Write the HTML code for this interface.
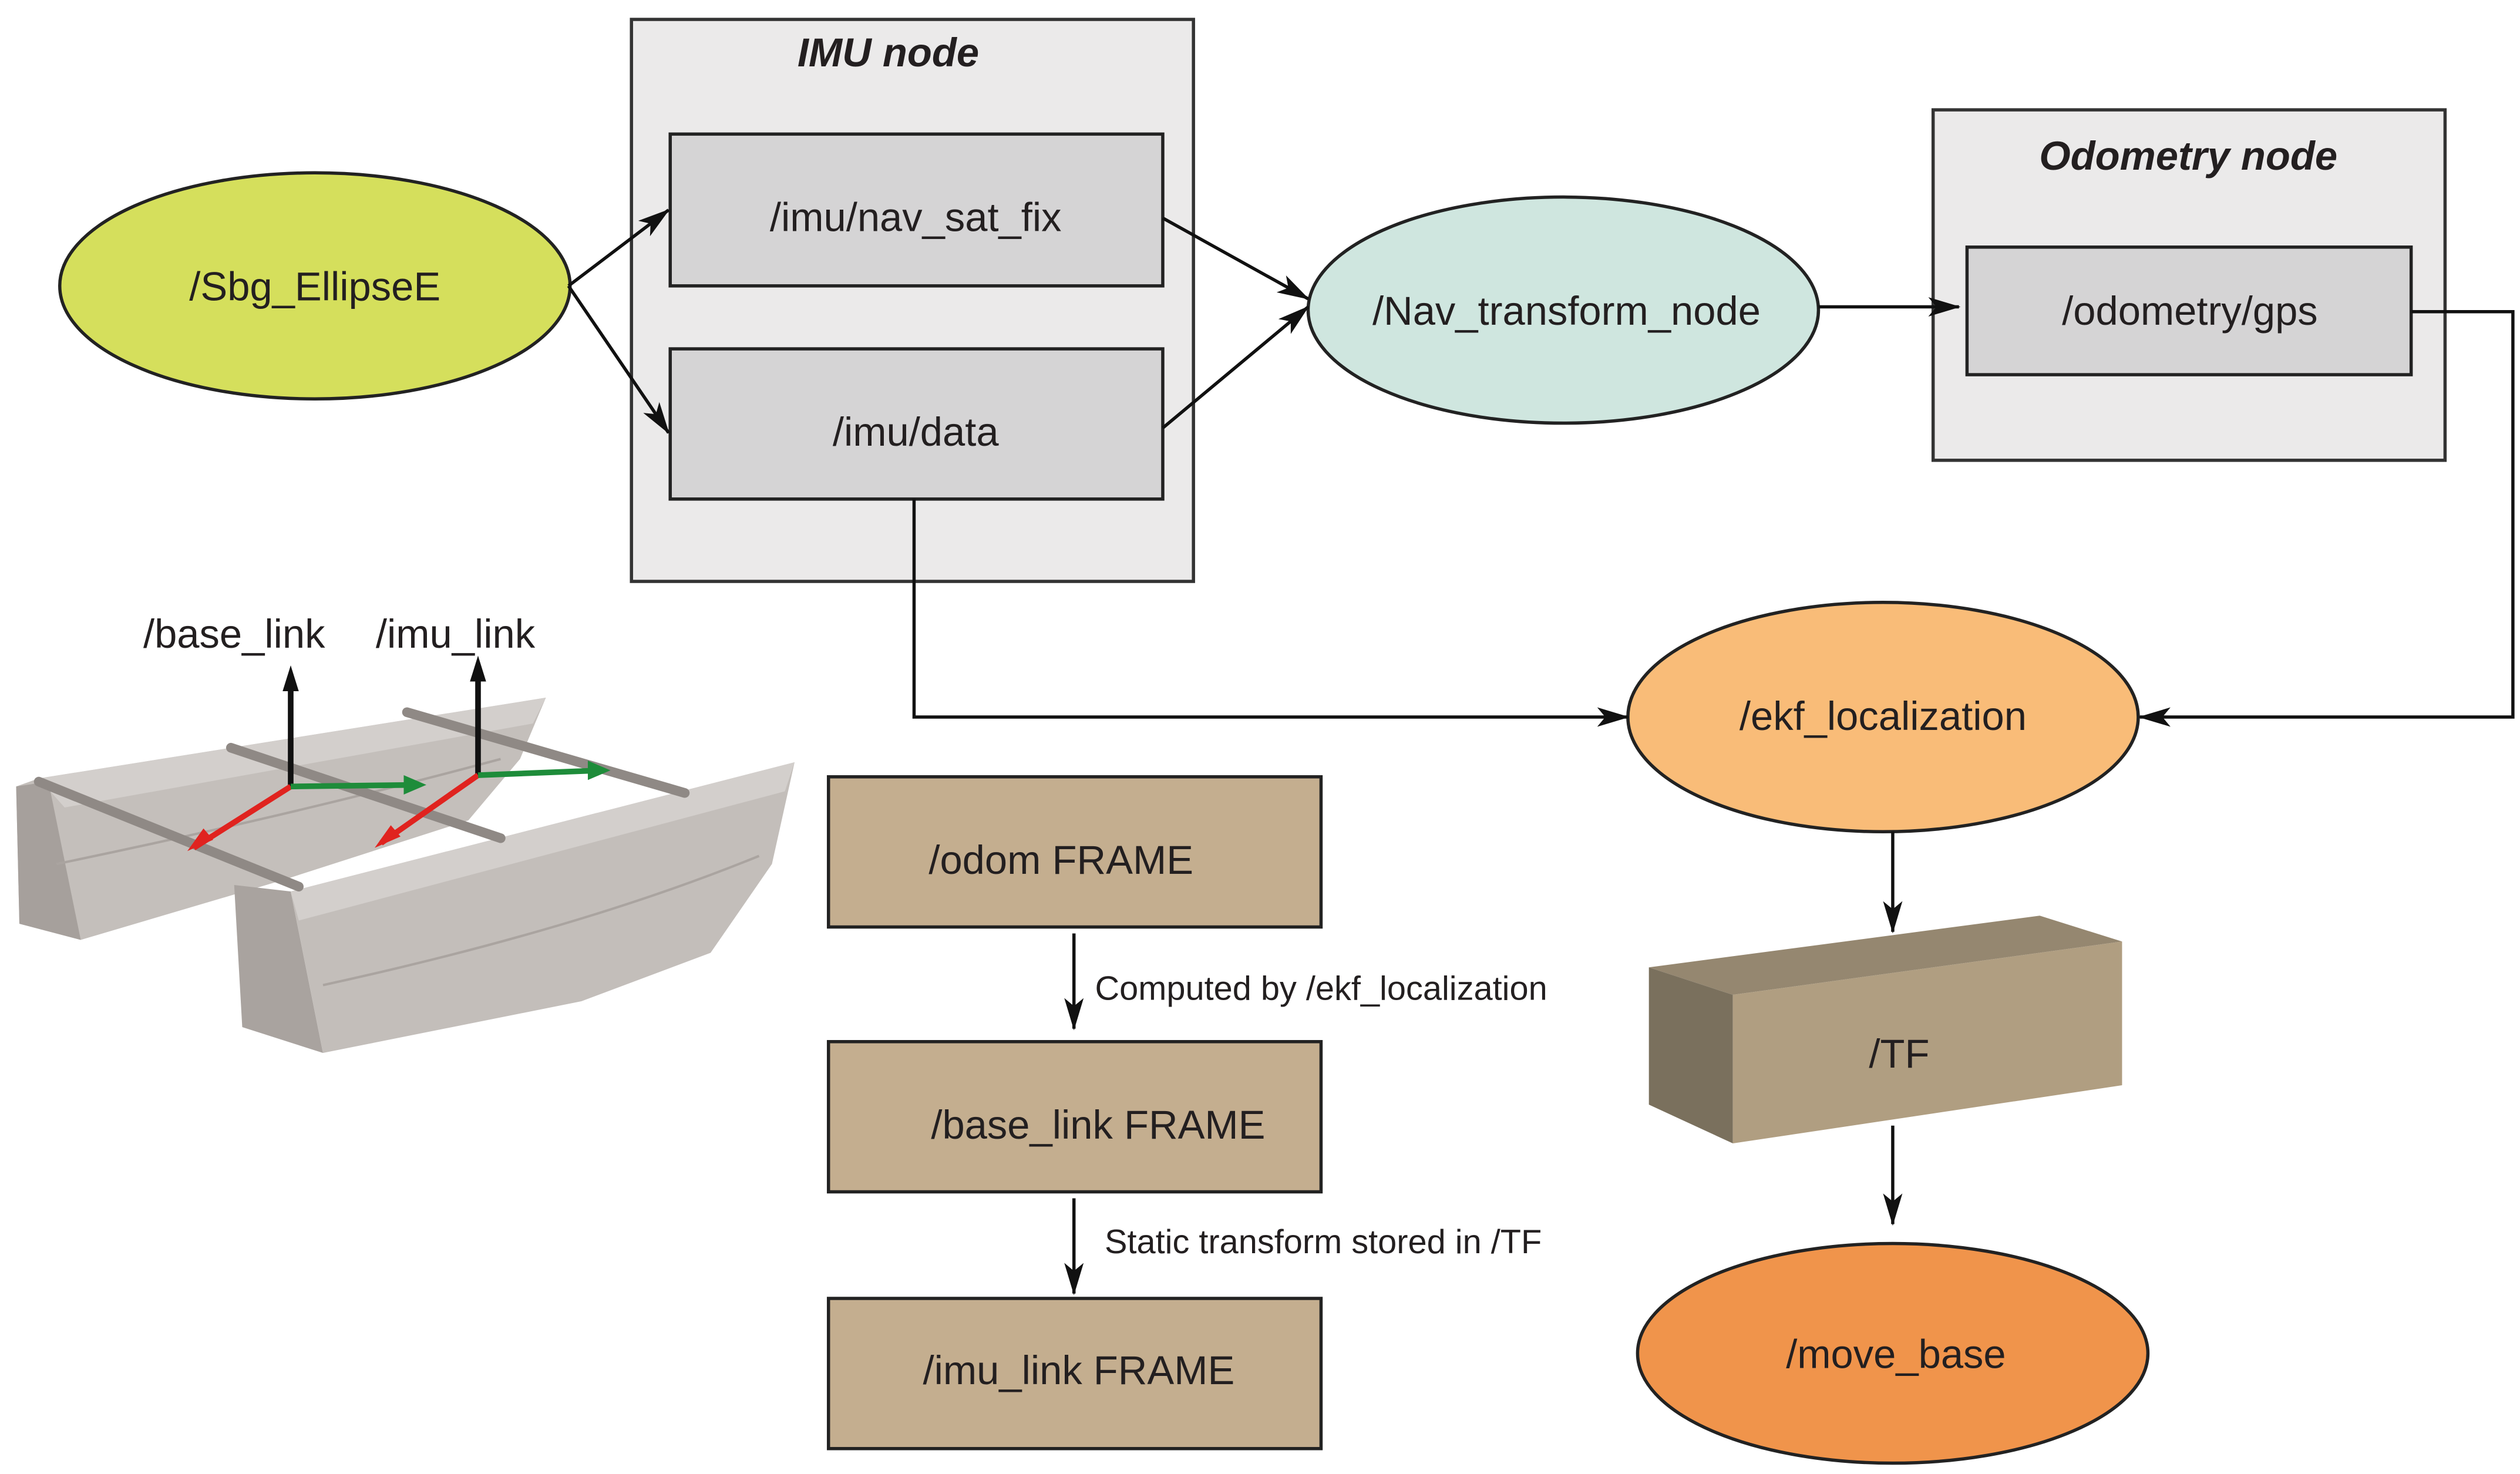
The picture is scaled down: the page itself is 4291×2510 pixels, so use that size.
<!DOCTYPE html>
<html><head><meta charset="utf-8"><style>
html,body{margin:0;padding:0;background:#fff;}
svg{display:block;}
text{font-family:"Liberation Sans",sans-serif;fill:#231f20;}
</style></head><body>
<svg width="4291" height="2510" viewBox="0 0 1560.4 912.7" xmlns="http://www.w3.org/2000/svg">
<defs>
<marker id="ah" viewBox="0 0 20 12" refX="19" refY="6" markerWidth="20" markerHeight="12" markerUnits="userSpaceOnUse" orient="auto">
<path d="M0,0 L20,6 L0,12 L5,6 Z" fill="#111"/>
</marker>
</defs>
<rect width="1560.4" height="912.7" fill="#fff"/>

<!-- IMU node -->
<rect x="391" y="12" width="348" height="348" fill="#ebeaea" stroke="#333" stroke-width="2"/>
<text x="550" y="41" font-size="25" font-weight="bold" font-style="italic" text-anchor="middle">IMU node</text>
<rect x="415" y="83" width="305" height="94" fill="#d5d4d5" stroke="#222" stroke-width="2"/>
<text x="567" y="143" font-size="25" text-anchor="middle">/imu/nav_sat_fix</text>
<rect x="415" y="216" width="305" height="93" fill="#d5d4d5" stroke="#222" stroke-width="2"/>
<text x="567" y="276" font-size="25" text-anchor="middle">/imu/data</text>

<!-- Odometry node -->
<rect x="1197" y="68" width="317" height="217" fill="#ebeaea" stroke="#333" stroke-width="2"/>
<text x="1355" y="105" font-size="25" font-weight="bold" font-style="italic" text-anchor="middle">Odometry node</text>
<rect x="1218" y="153" width="275" height="79" fill="#d5d4d5" stroke="#222" stroke-width="2"/>
<text x="1356" y="201" font-size="25" text-anchor="middle">/odometry/gps</text>

<!-- Ellipses -->
<ellipse cx="195" cy="177" rx="158" ry="70" fill="#d5df5c" stroke="#222" stroke-width="2"/>
<text x="195" y="186" font-size="25" text-anchor="middle">/Sbg_EllipseE</text>
<ellipse cx="968" cy="192" rx="158" ry="70" fill="#cfe6df" stroke="#222" stroke-width="2"/>
<text x="970" y="201" font-size="25" text-anchor="middle">/Nav_transform_node</text>
<ellipse cx="1166" cy="444" rx="158" ry="71" fill="#f9bc78" stroke="#222" stroke-width="2"/>
<text x="1166" y="452" font-size="25" text-anchor="middle">/ekf_localization</text>
<ellipse cx="1172" cy="838" rx="158" ry="68" fill="#f0944b" stroke="#222" stroke-width="2"/>
<text x="1174" y="847" font-size="25" text-anchor="middle">/move_base</text>

<!-- Frame boxes -->
<rect x="513" y="481" width="305" height="93" fill="#c4ae8f" stroke="#222" stroke-width="2"/>
<text x="657" y="541" font-size="25" text-anchor="middle">/odom FRAME</text>
<rect x="513" y="645" width="305" height="93" fill="#c4ae8f" stroke="#222" stroke-width="2"/>
<text x="680" y="705" font-size="25" text-anchor="middle">/base_link FRAME</text>
<rect x="513" y="804" width="305" height="93" fill="#c4ae8f" stroke="#222" stroke-width="2"/>
<text x="668" y="857" font-size="25" text-anchor="middle">/imu_link FRAME</text>

<!-- TF box -->
<polygon points="1021,599 1263,567 1314,583 1073,616" fill="#958770"/>
<polygon points="1021,599 1073,616 1073,708 1021,684" fill="#7a705d"/>
<polygon points="1073,616 1314,583 1314,672 1073,708" fill="#b09e81"/>
<text x="1176" y="661" font-size="25" text-anchor="middle">/TF</text>

<!-- Connectors -->
<g stroke="#111" stroke-width="2" fill="none">
<line x1="352" y1="177" x2="414" y2="130" marker-end="url(#ah)"/>
<line x1="352" y1="177" x2="414" y2="268" marker-end="url(#ah)"/>
<line x1="720" y1="135" x2="810" y2="185" marker-end="url(#ah)"/>
<line x1="720" y1="265" x2="810" y2="190" marker-end="url(#ah)"/>
<line x1="1126" y1="190" x2="1213" y2="190" marker-end="url(#ah)"/>
<polyline points="1493,193 1556,193 1556,444 1325,444" marker-end="url(#ah)"/>
<polyline points="566,309 566,444 1008,444" marker-end="url(#ah)"/>
<line x1="1172" y1="515" x2="1172" y2="577" marker-end="url(#ah)"/>
<line x1="1172" y1="697" x2="1172" y2="758" marker-end="url(#ah)"/>
<line x1="665" y1="578" x2="665" y2="637" marker-end="url(#ah)"/>
<line x1="665" y1="742" x2="665" y2="801" marker-end="url(#ah)"/>
</g>
<text x="678" y="619" font-size="21">Computed by /ekf_localization</text>
<text x="684" y="776" font-size="21">Static transform stored in /TF</text>

<!-- Boat -->
<polygon points="10,487 24,482 338,432 322,470 290,508 175,545 50,582 12,572" fill="#c4bfbb"/>
<polygon points="10,487 30,484 50,582 12,572" fill="#a6a09c"/>
<polygon points="24,482 338,432 330,448 40,500" fill="#d3cfcc"/>
<polygon points="145,548 180,552 200,652 150,636" fill="#a9a39f"/>
<polygon points="180,552 492,472 478,535 440,590 360,620 200,652" fill="#c3beba"/>
<polygon points="180,552 492,472 486,490 185,570" fill="#d3cfcc"/>
<path d="M200,610 Q360,575 470,530" stroke="#aaa4a0" stroke-width="1.5" fill="none"/>
<path d="M35,535 Q180,505 310,470" stroke="#aaa4a0" stroke-width="1.5" fill="none"/>
<g stroke="#8f8985" stroke-width="6" stroke-linecap="round">
<line x1="24" y1="484" x2="185" y2="549"/>
<line x1="143" y1="463" x2="310" y2="519"/>
<line x1="252" y1="441" x2="424" y2="491"/>
</g>
<g stroke-width="3.5" fill="none">
<line x1="180" y1="487" x2="180" y2="418" stroke="#111"/>
<line x1="296" y1="480" x2="296" y2="412" stroke="#111"/>
<line x1="180" y1="487" x2="120" y2="525" stroke="#e0231f"/>
<line x1="296" y1="480" x2="236" y2="522" stroke="#e0231f"/>
<line x1="180" y1="487" x2="258" y2="486" stroke="#1e8c3a"/>
<line x1="296" y1="480" x2="372" y2="477" stroke="#1e8c3a"/>
</g>
<polygon points="180,412 175,428 185,428" fill="#111"/>
<polygon points="296,406 291,422 301,422" fill="#111"/>
<polygon points="116,527 126,513 132,520" fill="#e0231f"/>
<polygon points="232,525 242,511 248,518" fill="#e0231f"/>
<polygon points="264,486 250,480 250,492" fill="#1e8c3a"/>
<polygon points="378,477 364,471 364,483" fill="#1e8c3a"/>
<text x="145" y="401" font-size="25" text-anchor="middle">/base_link</text>
<text x="282" y="401" font-size="25" text-anchor="middle">/imu_link</text>
</svg>
</body></html>
